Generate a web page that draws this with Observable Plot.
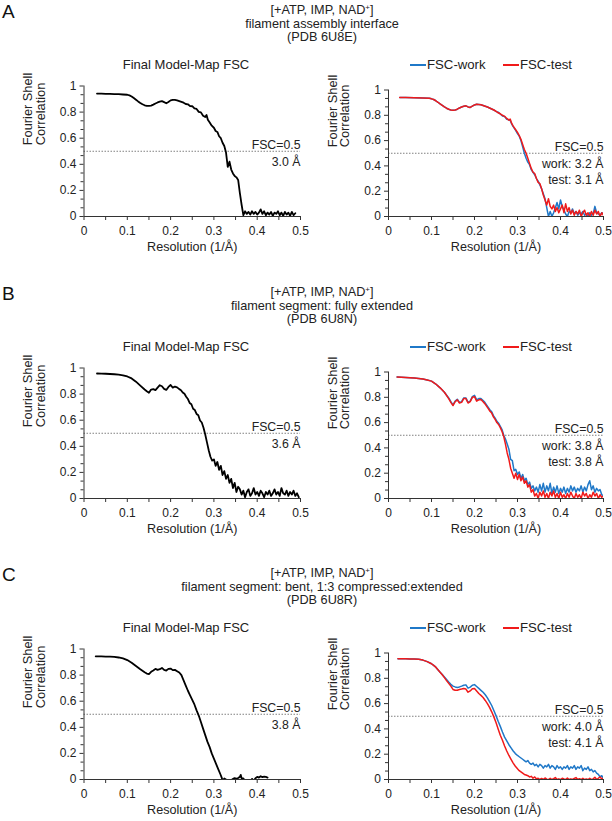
<!DOCTYPE html>
<html>
<head>
<meta charset="utf-8">
<script src="https://cdn.jsdelivr.net/npm/d3@7"></script>
<script src="https://cdn.jsdelivr.net/npm/@observablehq/plot@0.6"></script>
<style>
  body { margin: 0; background: #fff; font-family: "Liberation Sans", Arial, sans-serif; color: #222; }
  #page { position: relative; width: 612px; height: 821px; overflow: hidden; background: #fff; }
  .abs { position: absolute; white-space: nowrap; }
  sup { font-size: 8px; vertical-align: 4px; line-height: 0; }
  .sw { position: absolute; height: 1.6px; width: 16px; }
</style>
</head>
<body>
<div id="page"></div>
<script>
// ---------------- DATA ----------------
const panelLetters = ["A", "B", "C"];
const panelHeaders = [
  ["[+ATP, IMP, NAD<sup>+</sup>]", "filament assembly interface", "(PDB 6U8E)"],
  ["[+ATP, IMP, NAD<sup>+</sup>]", "filament segment: fully extended", "(PDB 6U8N)"],
  ["[+ATP, IMP, NAD<sup>+</sup>]", "filament segment: bent, 1:3 compressed:extended", "(PDB 6U8R)"]
];
const mapTitle = "Final Model-Map FSC";
const seriesNames = ["FSC-work", "FSC-test"];
const xLabel = "Resolution (1/Å)";
const yLabel = "Fourier Shell\nCorrelation";
const fscCut = 0.5;
const cutLabel = "FSC=0.5";
const xMajor = [0, 0.1, 0.2, 0.3, 0.4, 0.5];
const xMinor = [0.05, 0.15, 0.25, 0.35, 0.45];
const yMajor = [0, 0.2, 0.4, 0.6, 0.8, 1];
const yMinor = [0.0667, 0.1333, 0.2667, 0.3333, 0.4667, 0.5333, 0.6667, 0.7333, 0.8667, 0.9333];
const mapLabels = ["3.0 Å", "3.6 Å", "3.8 Å"];
const fitLabels = ["work: 3.2 Å\ntest: 3.1 Å", "work: 3.8 Å\ntest: 3.8 Å", "work: 4.0 Å\ntest: 4.1 Å"];

// Panel A – model-map FSC
const aMapRes = [0.03,0.04,0.05,0.06,0.07,0.08,0.09,0.1,
  0.105,0.11,0.115,0.12,0.125,0.13,0.135,0.14,0.145,0.15,0.155,0.16,0.165,0.17,0.175,0.18,0.185,0.19,0.195,0.2,0.205,0.21,0.215,0.22,0.225,0.23,0.235,0.24,0.245,0.25,0.255,0.26,0.265,0.27,0.275,0.28,
  0.283,0.286,0.29,0.295,0.3,
  0.304,0.308,0.312,0.316,0.32,0.324,0.328,0.332,0.336,0.34,0.344,0.348,0.352,0.356,0.36,0.364,0.368,0.372,0.376,0.38,0.384,0.388,0.392,0.396,0.4,0.404,0.408,0.412,0.416,0.42,0.424,0.428,0.432,0.436,0.44,0.444,0.448,0.452,0.456,0.46,0.464,0.468,0.472,0.476,0.48,0.484,0.488];
const aMapFsc = [0.942,0.941,0.940,0.939,0.938,0.937,0.935,0.933,
  0.928,0.920,0.908,0.895,0.882,0.870,0.860,0.852,0.848,0.847,0.850,0.857,0.866,0.874,0.880,0.884,0.876,0.868,0.878,0.890,0.894,0.893,0.890,0.884,0.878,0.872,0.862,0.860,0.846,0.845,0.828,0.824,0.802,0.798,0.772,0.762,
  0.778,0.742,0.722,0.696,0.680,
  0.655,0.648,0.615,0.600,0.565,0.540,0.49,0.38,0.42,0.36,0.33,0.31,0.30,0.28,0.18,0.09,0.01,0.04,0.02,0.035,0.015,0.04,0.02,0.035,0.015,0.03,0.055,0.02,0.04,0.01,0.03,0.015,0.035,0.005,0.03,0.02,0.04,0.01,0.03,0.005,0.035,0.015,0.03,0.005,0.035,0.01,0.025];

// Panel A – work / test
const aFitRes = [0.026,0.04,0.06,0.08,0.095,
  0.1,0.105,0.11,0.115,0.12,0.125,0.13,0.135,0.14,0.145,0.15,0.155,0.16,0.165,0.17,0.175,0.18,0.185,0.19,0.195,0.2,0.205,0.21,0.215,0.22,0.225,0.23,0.235,0.24,0.245,0.25,0.255,0.26,0.265,0.27,0.275,0.28,
  0.283,0.286,0.29,0.295,0.3,
  0.304,0.308,0.312,0.316,0.32,0.324,0.328,0.332,0.336,0.34,0.344,0.348,0.352,0.356,0.36,0.364,0.368,0.372,0.376,0.38,0.384,0.388,0.392,0.396,0.4,0.404,0.408,0.412,0.416,0.42,0.424,0.428,0.432,0.436,0.44,0.444,0.448,0.452,0.456,0.46,0.464,0.468,0.472,0.476,0.48,0.484,0.488,0.492,0.496,0.5];
const aTest = [0.94,0.94,0.938,0.936,0.934,
  0.93,0.925,0.915,0.903,0.89,0.878,0.866,0.856,0.848,0.842,0.84,0.842,0.848,0.858,0.866,0.872,0.875,0.866,0.862,0.872,0.882,0.888,0.886,0.884,0.878,0.872,0.866,0.858,0.85,0.842,0.832,0.82,0.812,0.80,0.792,0.775,0.762,
  0.77,0.74,0.715,0.69,0.665,
  0.64,0.61,0.57,0.53,0.50,0.46,0.42,0.38,0.35,0.34,0.30,0.27,0.26,0.22,0.17,0.13,0.09,0.14,0.08,0.06,0.09,0.04,0.07,0.03,0.06,0.09,0.03,0.10,0.04,0.07,0.02,0.05,0.01,0.04,0.02,0.05,0.00,0.03,0.05,0.01,0.03,0.00,0.04,0.01,0.05,0.02,0.04,0.00,0.03,0.01];
const aWork = [0.94,0.94,0.938,0.936,0.934,
  0.93,0.925,0.915,0.903,0.89,0.878,0.866,0.856,0.848,0.842,0.84,0.842,0.848,0.858,0.866,0.872,0.875,0.866,0.862,0.872,0.882,0.888,0.886,0.884,0.878,0.872,0.866,0.858,0.85,0.842,0.83,0.825,0.81,0.795,0.79,0.768,0.765,
  0.76,0.735,0.71,0.685,0.655,
  0.635,0.60,0.55,0.50,0.46,0.43,0.41,0.37,0.35,0.33,0.30,0.28,0.25,0.22,0.18,0.14,0.07,0.00,0.04,0.00,0.03,0.07,0.11,0.06,0.13,0.08,0.05,0.02,0.00,0.04,0.03,0.06,0.02,0.04,0.01,0.03,0.02,0.04,0.01,0.02,0.00,0.03,0.01,0.02,0.08,0.03,0.02,0.01,0.03,0.02];

// Panel B – model-map FSC
const bMapRes = [0.03,0.04,0.05,0.06,0.07,0.08,0.09,0.1,0.11,0.12,0.13,0.14,
  0.145,0.15,0.155,0.16,0.165,0.17,0.175,0.18,0.185,0.19,0.195,0.2,0.205,0.21,0.215,0.22,
  0.224,0.228,0.232,0.236,0.24,0.244,0.248,0.252,0.256,0.26,0.264,0.268,0.272,0.276,0.28,0.284,0.288,0.292,0.296,0.3,0.304,0.308,0.312,0.316,0.32,0.324,0.328,0.332,0.336,0.34,0.344,0.348,0.352,0.356,0.36,0.364,0.368,0.372,0.376,0.38,0.384,0.388,0.392,0.396,0.4,0.404,0.408,0.412,0.416,0.42,0.424,0.428,0.432,0.436,0.44,0.444,0.448,0.452,0.456,0.46,0.464,0.468,0.472,0.476,0.48,0.484,0.488,0.492,0.496];
const bMapFsc = [0.958,0.957,0.956,0.954,0.952,0.949,0.944,0.935,0.92,0.895,0.865,0.835,
  0.822,0.81,0.835,0.838,0.83,0.85,0.868,0.86,0.84,0.832,0.855,0.87,0.85,0.858,0.852,0.838,
  0.83,0.812,0.802,0.78,0.762,0.732,0.722,0.688,0.678,0.648,0.638,0.598,0.582,0.542,0.49,0.43,0.37,0.32,0.29,0.30,0.25,0.28,0.22,0.25,0.18,0.21,0.15,0.18,
  0.12,0.15,0.08,0.12,0.05,0.09,0.07,0.03,0.06,0.01,0.05,0.07,0.02,0.04,0.08,0.03,0.05,0.02,0.06,0.04,0.01,0.05,0.03,0.06,0.02,0.04,0.07,0.03,0.05,0.02,0.08,0.04,0.03,0.06,0.02,0.05,0.03,0.06,0.02,0.04,0.01];

// Panel B – work / test
const bFitRes = [0.02,0.03,0.04,0.05,0.06,0.07,0.08,0.09,0.1,0.11,0.12,0.13,0.14,
  0.145,0.15,0.155,0.16,0.165,0.17,0.175,0.18,0.185,0.19,0.195,0.2,0.205,0.21,0.215,0.22,
  0.224,0.228,0.232,0.236,0.24,0.244,0.248,0.252,0.256,0.26,0.264,0.268,0.272,0.276,0.28,0.284,0.288,0.292,0.296,0.3,0.304,0.308,0.312,0.316,0.32,0.324,0.328,0.332,0.336,0.34,0.344,0.348,0.352,0.356,0.36,0.364,0.368,0.372,0.376,0.38,0.384,0.388,0.392,0.396,0.4,0.404,0.408,0.412,0.416,0.42,0.424,0.428,0.432,0.436,0.44,0.444,0.448,0.452,0.456,0.46,0.464,0.468,0.472,0.476,0.48,0.484,0.488,0.492,0.496,0.5];
const bTest = [0.96,0.958,0.956,0.954,0.952,0.949,0.944,0.937,0.928,0.905,0.875,0.84,0.79,
  0.76,0.735,0.765,0.78,0.755,0.76,0.79,0.79,0.755,0.765,0.80,0.805,0.77,0.78,0.782,0.765,
  0.75,0.73,0.71,0.69,0.675,0.645,0.625,0.60,0.585,0.56,0.53,0.49,0.43,0.36,0.31,0.24,0.20,0.16,0.20,0.15,0.19,0.14,0.17,0.12,0.14,0.09,0.11,0.05,0.07,0.02,0.04,0.00,0.05,0.02,0.06,0.01,0.04,0.00,0.05,0.02,0.06,0.01,0.04,0.00,0.05,0.01,0.03,0.00,0.04,0.01,0.05,0.02,0.00,0.04,0.01,0.03,0.00,0.05,0.02,0.04,0.00,0.03,0.01,0.05,0.02,0.04,0.00,0.03,0.01,0.02];
const bWork = [0.96,0.958,0.956,0.954,0.952,0.949,0.944,0.937,0.928,0.905,0.875,0.84,0.795,
  0.765,0.74,0.77,0.785,0.76,0.765,0.795,0.795,0.76,0.77,0.805,0.815,0.78,0.79,0.79,0.775,
  0.76,0.74,0.72,0.70,0.685,0.655,0.635,0.61,0.595,0.57,0.545,0.50,0.47,0.43,0.39,0.31,0.30,0.22,0.23,0.19,0.21,0.16,0.19,0.14,0.16,0.11,0.13,0.08,0.10,0.06,0.09,0.05,0.11,0.06,0.12,0.05,0.10,0.06,0.12,0.04,0.09,0.05,0.10,0.04,0.08,0.05,0.09,0.04,0.08,0.05,0.10,0.06,0.09,0.05,0.08,0.06,0.10,0.05,0.09,0.06,0.11,0.14,0.07,0.10,0.05,0.08,0.06,0.07,0.03,0.02];

// Panel C – model-map FSC
const cMapRes = [0.027,0.04,0.05,0.06,0.07,0.08,0.09,0.1,0.11,0.12,0.13,0.14,
  0.145,0.15,0.155,0.16,0.165,0.17,0.175,0.18,0.185,0.19,0.195,0.2,0.205,0.21,0.215,0.22,0.225,0.23,0.235,0.24,0.245,0.25,0.255,0.26,0.265,0.27,0.275,0.28,0.285,0.29,0.295,0.3,0.305,0.31,0.315,
  0.318,
  0.32,0.324,0.328,0.332,0.336,0.34,0.344,0.348,0.352,0.356,0.36,0.362,0.364,0.368,0.372,0.376,0.38,0.384,0.388,0.392,0.396,0.4,0.404,0.408,0.412,0.416,0.42,0.424];
const cMapFsc = [0.944,0.943,0.942,0.941,0.939,0.935,0.928,0.915,0.895,0.87,0.845,0.822,
  0.812,0.808,0.825,0.835,0.848,0.84,0.845,0.855,0.84,0.835,0.848,0.85,0.838,0.84,0.83,0.82,0.80,0.76,0.72,0.68,0.645,0.61,0.575,0.53,0.49,0.44,0.39,0.34,0.29,0.25,0.20,0.16,0.12,0.08,0.04,
  0.015,
  -0.01,0.008,0.0,-0.015,-0.02,-0.005,0.005,0.01,0.005,0.012,0.02,0.035,0.01,0.008,-0.01,-0.02,-0.01,-0.02,0.005,-0.01,0.01,0.02,0.015,0.025,0.018,0.022,0.02,0.015];

// Panel C – work / test
const cFitRes = [0.022,0.03,0.04,0.05,0.06,0.07,0.08,0.09,0.1,
  0.105,0.11,0.115,0.12,0.125,0.13,0.135,0.14,0.145,0.15,0.155,0.16,0.165,0.17,0.175,0.18,0.185,0.19,0.195,0.2,0.205,0.21,0.215,0.22,0.225,0.23,0.235,0.24,0.245,0.25,0.255,0.26,0.265,0.27,0.275,0.28,0.285,0.29,0.295,0.3,
  0.304,0.308,0.312,0.316,0.32,0.324,0.328,0.332,0.336,0.34,0.344,0.348,0.352,0.356,0.36,0.364,0.368,0.372,0.376,0.38,0.384,0.388,0.392,0.396,0.4,0.404,0.408,0.412,0.416,0.42,0.424,0.428,0.432,0.436,0.44,0.444,0.448,0.452,0.456,0.46,0.464,0.468,0.472,0.476,0.48,0.484,0.488,0.492,0.496,0.5];
const cWork = [0.955,0.955,0.954,0.953,0.952,0.95,0.944,0.932,0.915,
  0.902,0.888,0.868,0.848,0.83,0.81,0.79,0.77,0.752,0.738,0.732,0.728,0.732,0.738,0.745,0.748,0.722,0.73,0.745,0.75,0.735,0.72,0.705,0.69,0.67,0.645,0.615,0.585,0.545,0.505,0.46,0.42,0.375,0.335,0.305,0.275,0.25,0.225,0.205,0.19,
  0.18,0.17,0.16,0.15,0.14,0.15,0.13,0.12,0.13,0.11,0.12,0.10,0.12,0.11,0.09,0.11,0.10,0.12,0.09,0.11,0.10,0.08,0.11,0.09,0.10,0.08,0.10,0.09,0.11,0.08,0.10,0.09,0.11,0.08,0.10,0.09,0.11,0.07,0.09,0.08,0.10,0.07,0.08,0.06,0.07,0.05,0.04,0.02,0.03,0.01];
const cTest = [0.955,0.955,0.954,0.953,0.952,0.95,0.944,0.932,0.915,
  0.902,0.888,0.868,0.848,0.828,0.805,0.782,0.76,0.738,0.712,0.705,0.706,0.712,0.715,0.72,0.715,0.69,0.70,0.718,0.72,0.70,0.68,0.665,0.648,0.625,0.60,0.57,0.535,0.495,0.45,0.40,0.35,0.31,0.265,0.225,0.19,0.16,0.13,0.105,0.085,
  0.07,0.06,0.05,0.04,0.035,0.03,0.02,0.025,0.01,0.02,0.005,0.01,0.0,0.008,0.0,0.012,0.003,0.0,0.01,0.0,0.006,0.015,0.0,0.005,0.0,0.01,0.004,0.0,0.012,0.0,0.005,0.0,0.008,0.015,0.0,0.006,0.0,0.01,0.0,0.004,0.0,0.01,0.0,0.005,0.018,0.0,0.01,0.02,0.005,0.01];

// ---------------- STYLE / LAYOUT ----------------
const FONT = '"Liberation Sans", Arial, sans-serif';
const AXIS = "#333";
const BLACK = "#000";
const BLUE = "#1f78c8";
const RED = "#f01a1a";
const panelTops = [0, 282, 563];

const mapData = [
  {res: aMapRes, fsc: aMapFsc},
  {res: bMapRes, fsc: bMapFsc},
  {res: cMapRes, fsc: cMapFsc}
];
const fitData = [
  {res: aFitRes, work: aWork, test: aTest},
  {res: bFitRes, work: bWork, test: bTest},
  {res: cFitRes, work: cWork, test: cTest}
];

const page = document.getElementById("page");
function addDiv(html, style, cls) {
  const d = document.createElement("div");
  d.className = cls || "abs";
  d.innerHTML = html;
  Object.assign(d.style, style);
  page.appendChild(d);
  return d;
}
const rows = (res, vals) => res.map((r, i) => ({res: r, fsc: vals[i]}));

function fscPlot(lines, belowLabel, m) {
  const marks = [
    Plot.ruleY([fscCut], {stroke: "#808080", strokeWidth: 1, strokeDasharray: "1.5,1.5"}),
    Plot.axisY(yMinor, {tickSize: 3, stroke: AXIS, fill: "none", label: null}),
    Plot.axisY(yMajor, {tickSize: 4, tickPadding: 3.5, stroke: AXIS, fill: "#222", fontSize: 12, tickFormat: d => String(d), label: null}),
    Plot.axisX(xMinor, {tickSize: 4, stroke: AXIS, fill: "none", label: null}),
    Plot.axisX(xMajor, {tickSize: 4, tickPadding: 6, stroke: AXIS, fill: "#222", fontSize: 12, tickFormat: d => String(d), label: null}),
    Plot.ruleX([0], {stroke: AXIS, strokeWidth: 1}),
    Plot.ruleY([0], {stroke: AXIS, strokeWidth: 1})
  ];
  for (const l of lines) {
    marks.push(Plot.line(l.data, {x: "res", y: "fsc", stroke: l.color, strokeWidth: l.width, clip: true}));
  }
  marks.push(
    Plot.text([cutLabel], {y: () => fscCut, frameAnchor: "right", text: d => d, textAnchor: "end", lineAnchor: "bottom", dy: -2.7, fontSize: 12.3, fill: "#222"}),
    Plot.text([belowLabel], {y: () => fscCut, frameAnchor: "right", text: d => d, textAnchor: "end", lineAnchor: "top", dy: 4.3, fontSize: 12.3, lineHeight: 1.25, fill: "#222"}),
    Plot.text([yLabel], {frameAnchor: "left", text: d => d, rotate: -90, dx: -49.5, dy: -6, fontSize: 12.8, lineHeight: 0.98, fill: "#222"}),
    Plot.text([xLabel], {frameAnchor: "bottom", text: d => d, dy: 34, fontSize: 12.6, fill: "#222"})
  );
  const svg = Plot.plot({
    width: 306, height: 190,
    marginLeft: m.left, marginRight: m.right, marginTop: m.top, marginBottom: 49,
    style: {fontFamily: FONT, fontSize: "12px", color: "#222", background: "transparent", overflow: "visible"},
    x: {domain: [0, 0.5]},
    y: {domain: [0, 1]},
    marks
  });
  svg.style.position = "absolute";
  svg.style.left = m.x + "px";
  svg.style.top = m.y + "px";
  page.appendChild(svg);
}

panelLetters.forEach((letter, k) => {
  const off = panelTops[k];
  addDiv(letter, {left: "2px", top: (off + 1) + "px", fontSize: "19px", lineHeight: "22px", color: "#111"});
  addDiv(panelHeaders[k].join("<br>"), {left: "0px", width: "644px", top: (off + 4) + "px", textAlign: "center", fontSize: "12.7px", lineHeight: "13.5px"});
  addDiv(mapTitle, {left: "86px", width: "200px", top: (off + 57) + "px", textAlign: "center", fontSize: "13px", lineHeight: "16px"});

  // legend
  const ly = off + 65;
  addDiv("", {left: "410px", top: (ly - 0.8) + "px", backgroundColor: BLUE}, "sw");
  addDiv(seriesNames[0], {left: "427px", top: (ly - 8) + "px", fontSize: "13.2px", lineHeight: "16px"});
  addDiv("", {left: "503px", top: (ly - 0.8) + "px", backgroundColor: RED}, "sw");
  addDiv(seriesNames[1], {left: "520px", top: (ly - 8) + "px", fontSize: "13.2px", lineHeight: "16px"});

  const md = mapData[k];
  fscPlot([{data: rows(md.res, md.fsc), color: BLACK, width: 1.8}], mapLabels[k],
    {x: 0, y: off + 75, left: 83.5, right: 6, top: 10.5});
  const fd = fitData[k];
  fscPlot([
      {data: rows(fd.res, fd.work), color: BLUE, width: 1.5},
      {data: rows(fd.res, fd.test), color: RED, width: 1.5}
    ], fitLabels[k],
    {x: 306, y: off + 75, left: 82, right: 9, top: 14.5});
});
</script>
</body>
</html>
